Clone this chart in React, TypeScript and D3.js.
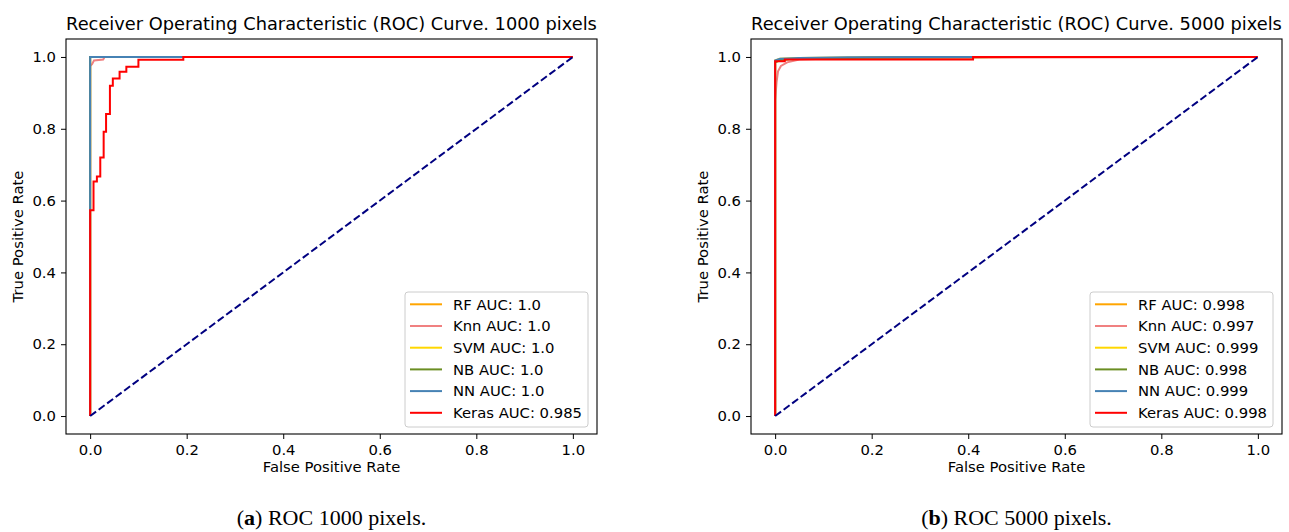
import { useEffect, useRef } from 'react';
import * as d3 from 'd3';

const models = ['RF', 'Knn', 'SVM', 'NB', 'NN', 'Keras'];
const modelColors = ['orange', 'lightcoral', 'gold', 'olivedrab', 'steelblue', 'red'];
const axisTicks = [0, 0.2, 0.4, 0.6, 0.8, 1.0];

// ---- 1000 pixels ----
const auc1000 = ['1.0', '1.0', '1.0', '1.0', '1.0', '0.985'];
const rfFpr1000 = [0, 0, 1];
const rfTpr1000 = [0, 1, 1];
const knnFpr1000 = [0, 0, 0.004, 0.008, 0.027, 0.03, 1];
const knnTpr1000 = [0, 0.975, 0.98, 0.99, 0.993, 1, 1];
const svmFpr1000 = [0, 0, 1];
const svmTpr1000 = [0, 1, 1];
const nbFpr1000 = [0, 0, 1];
const nbTpr1000 = [0, 1, 1];
const nnFpr1000 = [0, 0, 1];
const nnTpr1000 = [0, 1, 1];
const kerasFpr1000 = [0, 0, 0.007, 0.014, 0.021, 0.028, 0.033, 0.041, 0.047, 0.061, 0.075, 0.1, 0.193, 1];
const kerasTpr1000 = [0, 0.573, 0.653, 0.667, 0.72, 0.792, 0.841, 0.92, 0.94, 0.959, 0.973, 0.992, 1, 1];

// ---- 5000 pixels ----
const auc5000 = ['0.998', '0.997', '0.999', '0.998', '0.999', '0.998'];
const rfFpr5000 = [0, 0, 0.01, 0.03, 0.1, 0.3, 0.5, 1];
const rfTpr5000 = [0, 0.985, 0.99, 0.994, 0.996, 0.998, 1, 1];
const knnFpr5000 = [0, 0, 0.003, 0.006, 0.012, 0.025, 0.05, 0.15, 1];
const knnTpr5000 = [0, 0.88, 0.93, 0.96, 0.975, 0.985, 0.993, 0.997, 1];
const svmFpr5000 = [0, 0, 0.01, 0.05, 0.2, 0.5, 1];
const svmTpr5000 = [0, 0.99, 0.995, 0.997, 0.999, 1, 1];
const nbFpr5000 = [0, 0, 0.01, 0.05, 0.2, 0.45, 1];
const nbTpr5000 = [0, 0.985, 0.992, 0.995, 0.998, 1, 1];
const nnFpr5000 = [0, 0, 0.01, 0.05, 0.15, 0.3, 1];
const nnTpr5000 = [0, 0.99, 0.995, 0.997, 0.999, 1, 1];
const kerasFpr5000 = [0, 0, 0.02, 0.41, 1];
const kerasTpr5000 = [0, 0.988, 0.993, 1, 1];

const panels = [
  {
    title: 'Receiver Operating Characteristic (ROC) Curve. 1000 pixels',
    letter: 'a',
    caption: ' ROC 1000 pixels.',
    aucs: auc1000,
    fpr: [rfFpr1000, knnFpr1000, svmFpr1000, nbFpr1000, nnFpr1000, kerasFpr1000],
    tpr: [rfTpr1000, knnTpr1000, svmTpr1000, nbTpr1000, nnTpr1000, kerasTpr1000],
  },
  {
    title: 'Receiver Operating Characteristic (ROC) Curve. 5000 pixels',
    letter: 'b',
    caption: ' ROC 5000 pixels.',
    aucs: auc5000,
    fpr: [rfFpr5000, knnFpr5000, svmFpr5000, nbFpr5000, nnFpr5000, kerasFpr5000],
    tpr: [rfTpr5000, knnTpr5000, svmTpr5000, nbTpr5000, nnTpr5000, kerasTpr5000],
  },
];

export default function App() {
  const svgRef = useRef<SVGSVGElement>(null);

  useEffect(() => {
    const svg = d3.select(svgRef.current);
    svg.selectAll('*').remove();

    const W = 1289, H = 532;
    svg.attr('width', W).attr('height', H);
    svg.append('rect').attr('width', W).attr('height', H).attr('fill', 'white');

    const font = 'DejaVu Sans, sans-serif';
    const fs = 14.8;
    const axW = 531, axH = 395, axTop = 39;
    const lefts = [66, 751];

    panels.forEach((p, pi) => {
      const g = svg.append('g').attr('transform', `translate(${lefts[pi]},${axTop})`);
      const x = d3.scaleLinear().domain([-0.05, 1.05]).range([0, axW]);
      const y = d3.scaleLinear().domain([-0.05, 1.05]).range([axH, 0]);

      const clip = `clip-${pi}`;
      svg.append('defs').append('clipPath').attr('id', clip)
        .append('rect').attr('width', axW).attr('height', axH);

      const plot = g.append('g').attr('clip-path', `url(#${clip})`);

      // model curves
      models.forEach((m, mi) => {
        const pts = p.fpr[mi].map((f, k) => [f, p.tpr[mi][k]] as [number, number]);
        const line = d3.line<[number, number]>()
          .x(d => x(d[0])).y(d => y(d[1]))
          .curve(m === 'Keras' ? d3.curveStepAfter : d3.curveLinear);
        plot.append('path')
          .datum(pts)
          .attr('d', line)
          .attr('fill', 'none')
          .attr('stroke', modelColors[mi])
          .attr('stroke-width', 2)
          .attr('stroke-linejoin', 'miter');
      });

      // chance diagonal
      plot.append('line')
        .attr('x1', x(0)).attr('y1', y(0)).attr('x2', x(1)).attr('y2', y(1))
        .attr('stroke', 'navy').attr('stroke-width', 2)
        .attr('stroke-dasharray', '7.4,3.2');

      // axes
      const yAxis = d3.axisLeft(y).tickValues(axisTicks).tickFormat(d3.format('.1f'))
        .tickSize(5).tickPadding(5).tickSizeOuter(0);
      const xAxis = d3.axisBottom(x).tickValues(axisTicks).tickFormat(d3.format('.1f'))
        .tickSize(5).tickPadding(5).tickSizeOuter(0);

      g.append('g')
        .call(yAxis)
        .call(ax => ax.select('.domain').remove())
        .call(ax => ax.selectAll('line').attr('stroke', 'black').attr('stroke-width', 1))
        .call(ax => ax.selectAll('text').attr('font-size', fs).attr('font-family', font).attr('fill', 'black'));

      g.append('g')
        .attr('transform', `translate(0,${axH})`)
        .call(xAxis)
        .call(ax => ax.select('.domain').remove())
        .call(ax => ax.selectAll('line').attr('stroke', 'black').attr('stroke-width', 1))
        .call(ax => ax.selectAll('text').attr('font-size', fs).attr('font-family', font).attr('fill', 'black'));

      // spines
      g.append('rect')
        .attr('x', 0).attr('y', 0).attr('width', axW).attr('height', axH)
        .attr('fill', 'none').attr('stroke', 'black').attr('stroke-width', 1.1);

      // labels
      g.append('text')
        .attr('x', axW / 2).attr('y', -9)
        .attr('text-anchor', 'middle')
        .attr('font-size', 17.8).attr('font-family', font)
        .text(p.title);

      g.append('text')
        .attr('x', axW / 2).attr('y', axH + 38)
        .attr('text-anchor', 'middle')
        .attr('font-size', fs).attr('font-family', font)
        .text('False Positive Rate');

      g.append('text')
        .attr('transform', 'rotate(-90)')
        .attr('x', -axH / 2).attr('y', -43)
        .attr('text-anchor', 'middle')
        .attr('font-size', fs).attr('font-family', font)
        .text('True Positive Rate');

      // legend
      const lgW = 183, lgH = 135;
      const lg = g.append('g').attr('transform', `translate(${axW - 9 - lgW},${axH - 7 - lgH})`);
      lg.append('rect')
        .attr('width', lgW).attr('height', lgH).attr('rx', 3)
        .attr('fill', 'white').attr('fill-opacity', 0.8)
        .attr('stroke', '#cccccc').attr('stroke-width', 1);
      models.forEach((m, mi) => {
        const ly = 12.3 + mi * 21.7;
        lg.append('line')
          .attr('x1', 5).attr('x2', 37).attr('y1', ly).attr('y2', ly)
          .attr('stroke', modelColors[mi]).attr('stroke-width', 2);
        lg.append('text')
          .attr('x', 48).attr('y', ly + 5.3)
          .attr('font-size', fs).attr('font-family', font)
          .text(`${m} AUC: ${p.aucs[mi]}`);
      });

      // caption
      const cap = svg.append('text')
        .attr('x', lefts[pi] + axW / 2).attr('y', 525)
        .attr('text-anchor', 'middle')
        .attr('font-size', 22).attr('font-family', 'Liberation Serif, serif');
      cap.append('tspan').text('(');
      cap.append('tspan').attr('font-weight', 'bold').text(p.letter);
      cap.append('tspan').text(')' + p.caption);
    });
  }, []);

  return (
    <svg
      ref={svgRef}
      style={{ position: 'absolute', left: 0, top: 0, display: 'block' }}
      role="img"
      aria-label="ROC curves for 1000 and 5000 pixels"
    />
  );
}
